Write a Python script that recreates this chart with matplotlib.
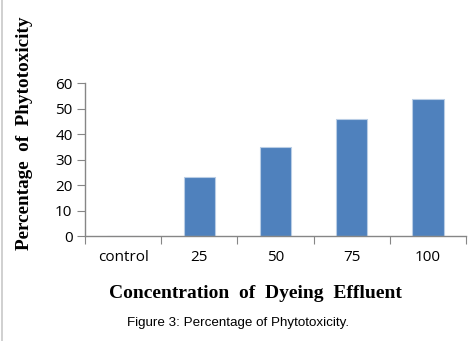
import matplotlib
matplotlib.use("Agg")
import matplotlib.pyplot as plt

# data
categories = ["control", "25", "50", "75", "100"]
phytotoxicity = [0, 23, 35, 46, 54]
y_ticks = [0, 10, 20, 30, 40, 50, 60]

W, H = 475, 341
fig = plt.figure(figsize=(W / 100, H / 100), dpi=100)
ax = fig.add_axes([85 / W, 1 - 236 / H, (466 - 85) / W, (236 - 83.3) / H])

x = range(len(categories))
ax.bar(x, phytotoxicity, width=0.41, color="#4F81BD", edgecolor="#B9CDE5", linewidth=0.8)

ax.set_xlim(-0.5, len(categories) - 0.5)
ax.set_ylim(0, 60)
ax.set_yticks(y_ticks)
ax.set_xticks([i - 0.5 for i in range(len(categories) + 1)])
ax.set_xticklabels([])
ax.set_xticks(list(x), minor=True)
ax.set_xticklabels(categories, minor=True)

for s in ["top", "right"]:
    ax.spines[s].set_visible(False)
for s in ["left", "bottom"]:
    ax.spines[s].set_color("#868686")
    ax.spines[s].set_linewidth(1.0)

ax.tick_params(axis="y", length=6, color="#868686", pad=3, labelsize=11)
ax.tick_params(axis="x", which="major", length=6, color="#868686")
ax.tick_params(axis="x", which="minor", length=0, pad=10, labelsize=11)
for lab in ax.get_yticklabels() + ax.get_xticklabels(minor=True):
    lab.set_family("Open Sans")

fig.text(255 / W, 1 - 293 / H, "Concentration  of  Dyeing  Effluent",
         family="Liberation Serif", fontweight="bold", fontsize=14,
         ha="center", va="center")
fig.text(25 / W, 1 - 133 / H, "Percentage  of  Phytotoxicity",
         family="Liberation Serif", fontweight="bold", fontsize=13.8,
         rotation=90, ha="center", va="center")
fig.text(238 / W, 1 - 323 / H, "Figure 3: Percentage of Phytotoxicity.",
         family="Liberation Sans", fontsize=9.6, ha="center", va="center")

# thin grey border on the left edge of the image
fig.add_artist(plt.Line2D([1.5 / W, 1.5 / W], [0, 1], transform=fig.transFigure,
                          color="#C8C8C8", linewidth=1.2))

fig.savefig("out.png", dpi=100)
